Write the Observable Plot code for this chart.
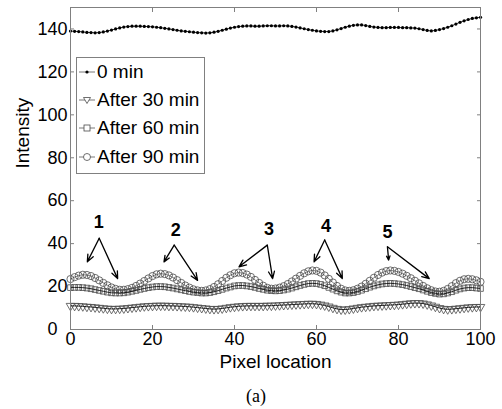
<!DOCTYPE html>
<html><head><meta charset="utf-8">
<script src="https://cdn.jsdelivr.net/npm/d3@7"></script>
<script src="https://cdn.jsdelivr.net/npm/@observablehq/plot@0.6"></script>
<style>
body{margin:0;background:#fff;}
#wrap{position:relative;width:502px;height:409px;font-family:"Liberation Sans",Arial,sans-serif;background:#fff;}
#legend{position:absolute;left:76px;top:57px;width:127px;height:115px;border:1px solid #808080;background:#fff;}
.row{position:absolute;left:0;height:24px;display:flex;align-items:center;font-size:19px;color:#000;white-space:nowrap;}
.row svg{display:block;}
#caption{position:absolute;left:0;width:512px;top:386px;text-align:center;font-family:"Liberation Serif","Times New Roman",serif;font-size:18px;color:#000;}
</style></head>
<body>
<div id="wrap"><div id="chart"></div><div id="legend"></div><div id="caption">(a)</div></div>
<script>
// Pixel locations 0..100
const pixelLocation = d3.range(0, 101);

const seriesNames = ["0 min", "After 30 min", "After 60 min", "After 90 min"];

const min0 = [139.0,138.9,138.8,138.6,138.4,138.3,138.2,138.3,138.6,139.0,
139.5,140.0,140.5,140.9,141.1,141.3,141.3,141.3,141.2,141.1,
141.0,140.8,140.6,140.3,140.0,139.7,139.4,139.1,138.9,138.7,
138.5,138.3,138.2,138.1,138.2,138.5,138.9,139.4,139.9,140.4,
140.8,141.1,141.3,141.4,141.4,141.3,141.3,141.4,141.5,141.5,
141.4,141.4,141.5,141.4,141.2,140.9,140.5,140.1,139.7,139.4,
139.1,138.9,138.8,138.8,139.1,139.6,140.2,140.8,141.3,141.7,
141.9,141.9,141.6,141.2,140.9,140.7,140.6,140.6,140.7,140.7,
140.7,140.6,140.6,140.5,140.4,140.1,139.7,139.3,139.1,139.3,
139.7,140.2,140.8,141.5,142.3,143.1,143.8,144.4,144.9,145.2,145.4];

const min30 = [11.0,11.0,10.9,10.8,10.6,10.5,10.3,10.1,9.9,9.7,
9.6,9.6,9.7,9.8,10.0,10.2,10.4,10.6,10.8,10.9,
11.0,11.1,11.1,11.1,11.0,11.0,10.9,10.8,10.7,10.6,
10.4,10.2,10.0,9.8,9.6,9.5,9.6,9.8,10.1,10.4,
10.6,10.8,10.9,11.0,11.0,11.0,11.0,11.0,11.1,11.1,
11.2,11.3,11.4,11.5,11.6,11.7,11.8,11.9,12.0,12.0,
11.9,11.6,11.2,10.7,10.1,9.6,9.3,9.3,9.5,9.8,
10.1,10.4,10.6,10.8,11.0,11.1,11.2,11.3,11.4,11.5,
11.6,11.8,12.0,12.2,12.3,12.3,12.1,11.7,11.2,10.6,
10.0,9.6,9.4,9.5,9.7,9.9,10.1,10.3,10.4,10.5,10.5];

const min60 = [19.5,19.6,19.6,19.5,19.3,19.0,18.6,18.2,17.8,17.4,
17.1,17.0,17.0,17.1,17.4,17.8,18.2,18.7,19.1,19.5,
19.8,20.0,20.0,19.9,19.6,19.3,18.9,18.5,18.1,17.7,
17.4,17.2,17.0,17.0,17.2,17.6,18.1,18.7,19.3,19.8,
20.3,20.5,20.5,20.3,20.0,19.6,19.1,18.7,18.3,18.1,
18.0,18.1,18.4,18.8,19.3,19.9,20.5,21.0,21.4,21.5,
21.4,21.0,20.4,19.6,18.8,18.0,17.4,17.0,17.0,17.2,
17.7,18.3,19.0,19.7,20.3,20.8,21.2,21.4,21.5,21.4,
21.2,20.9,20.5,20.0,19.5,19.0,18.4,17.8,17.2,16.8,
16.5,16.6,17.0,17.6,18.3,18.9,19.3,19.5,19.5,19.3,19.1];

const min90 = [23.5,24.4,25.1,25.5,25.4,24.9,24.0,22.9,21.7,20.6,
19.6,18.9,18.5,18.5,18.8,19.4,20.3,21.4,22.6,23.8,
24.9,25.7,26.0,25.8,25.2,24.2,23.0,21.7,20.5,19.5,
18.7,18.2,18.0,18.2,18.8,19.8,21.1,22.6,24.1,25.3,
26.2,26.5,26.3,25.6,24.5,23.1,21.7,20.4,19.4,19.0,
19.1,19.5,20.2,21.2,22.4,23.7,25.0,26.2,27.1,27.5,
27.3,26.5,25.2,23.6,21.9,20.3,19.0,18.2,18.0,18.3,
19.0,20.0,21.3,22.7,24.1,25.4,26.5,27.2,27.5,27.3,
26.8,26.0,25.0,23.9,22.7,21.5,20.3,19.2,18.3,17.7,
17.6,18.0,18.9,20.2,21.6,22.7,23.4,23.6,23.4,22.9,22.2];

const xTicks = [0, 20, 40, 60, 80, 100];
const yTicks = [0, 20, 40, 60, 80, 100, 120, 140];

// Peak annotations (numbers with two arrows each)
const peakLabels = ["1", "2", "3", "4", "5"];
const labelX = [6.9, 25.7, 48.4, 62.3, 77.3];
const labelY = [50.2, 46.3, 46.7, 47.9, 45.5];
const arrowFromX = [7.0, 25.3, 48.0, 62.0, 77.3];
const arrowFromY = [42.5, 39.3, 39.3, 41.7, 38.5];
const arrowLeftX = [4.1, 22.8, 41.1, 59.4, 77.6];
const arrowLeftY = [31.5, 31.5, 29.2, 31.5, 32.3];
const arrowRightX = [11.5, 31.0, 49.3, 66.3, 87.5];
const arrowRightY = [23.7, 22.9, 23.7, 23.7, 23.7];

const rows = (vals) => pixelLocation.map((x, i) => ({x, y: vals[i]}));
const r0 = rows(min0), r30 = rows(min30), r60 = rows(min60), r90 = rows(min90);

const labels = peakLabels.map((t, i) => ({t, x: labelX[i], y: labelY[i]}));
const arrows = [];
peakLabels.forEach((t, i) => {
  arrows.push({x1: arrowFromX[i], y1: arrowFromY[i], x2: arrowLeftX[i], y2: arrowLeftY[i]});
  arrows.push({x1: arrowFromX[i], y1: arrowFromY[i], x2: arrowRightX[i], y2: arrowRightY[i]});
});

const mk = "#4a4a4a";
const chart = Plot.plot({
  width: 502, height: 378,
  marginTop: 7, marginBottom: 49, marginLeft: 70, marginRight: 22,
  x: {domain: [0, 100]},
  y: {domain: [0, 150]},
  style: {fontFamily: "Liberation Sans, Arial, sans-serif", fontSize: "18px", color: "#000", background: "#fff", overflow: "visible"},
  marks: [
    Plot.dot(r90, {x: "x", y: "y", symbol: "circle", r: 3.6, stroke: mk, fill: "none", strokeWidth: 0.8}),
    Plot.line(r90, {x: "x", y: "y", stroke: "#333", strokeWidth: 0.6}),
    Plot.dot(r60, {x: "x", y: "y", symbol: "square", r: 3.2, stroke: mk, fill: "none", strokeWidth: 0.8}),
    Plot.line(r60, {x: "x", y: "y", stroke: "#111", strokeWidth: 0.9}),
    Plot.dot(r30, {x: "x", y: "y", symbol: "triangle", rotate: 180, r: 3.2, stroke: mk, fill: "none", strokeWidth: 0.8}),
    Plot.line(r30, {x: "x", y: "y", stroke: "#111", strokeWidth: 0.9}),
    Plot.line(r0, {x: "x", y: "y", stroke: "#000", strokeWidth: 0.8}),
    Plot.dot(r0, {x: "x", y: "y", r: 1.6, fill: "#000", stroke: "none"}),
    Plot.arrow(arrows, {x1: "x1", y1: "y1", x2: "x2", y2: "y2", stroke: "#000", strokeWidth: 1.3, headLength: 9, headAngle: 45}),
    Plot.text(labels, {x: "x", y: "y", text: "t", fontWeight: "bold", fontSize: 18, fill: "#000"}),
    Plot.frame({stroke: "#808080"}),
    Plot.axisX({ticks: xTicks, tickSize: -4, tickPadding: 7, stroke: "#808080", fill: "#000", fontSize: 18, label: null}),
    Plot.axisX({ticks: xTicks, anchor: "top", tickSize: -4, tickFormat: () => "", stroke: "#808080", label: null}),
    Plot.axisY({ticks: yTicks.filter((v) => v !== 0), tickSize: -4, tickPadding: 7, stroke: "#808080", fill: "#000", fontSize: 18, label: null}),
    Plot.axisY({ticks: [0], tickSize: -4, tickPadding: 17, stroke: "#808080", fill: "#000", fontSize: 18, label: null}),
    Plot.axisY({ticks: yTicks, anchor: "right", tickSize: -4, tickFormat: () => "", stroke: "#808080", label: null}),
    Plot.text(["Pixel location"], {frameAnchor: "bottom", dy: 38, fontSize: 19, fill: "#000"}),
    Plot.text(["Intensity"], {frameAnchor: "left", dx: -48, rotate: -90, fontSize: 19, fill: "#000"})
  ]
});
document.getElementById("chart").appendChild(chart);

// Legend
const legend = document.getElementById("legend");
const rowTops = [2, 30, 58, 87];
const symbols = ["dot", "tri", "sq", "circ"];
seriesNames.forEach((name, i) => {
  const row = document.createElement("div");
  row.className = "row";
  row.style.top = rowTops[i] + "px";
  let m = "";
  if (symbols[i] === "dot") m = `<circle cx="10" cy="12" r="1.6" fill="#000"/>`;
  if (symbols[i] === "tri") m = `<path d="M6.5,9.5 L13.5,9.5 L10,15.5 Z" fill="#fff" stroke="${mk}" stroke-width="0.8"/>`;
  if (symbols[i] === "sq") m = `<rect x="7" y="9" width="6" height="6" fill="#fff" stroke="${mk}" stroke-width="0.8"/>`;
  if (symbols[i] === "circ") m = `<circle cx="10" cy="12" r="3.5" fill="#fff" stroke="${mk}" stroke-width="0.8"/>`;
  row.innerHTML = `<svg width="20" height="24"><line x1="2" y1="12" x2="18" y2="12" stroke="#555" stroke-width="0.8"/>${m}</svg><span>${name}</span>`;
  legend.appendChild(row);
});
</script>
</body></html>
